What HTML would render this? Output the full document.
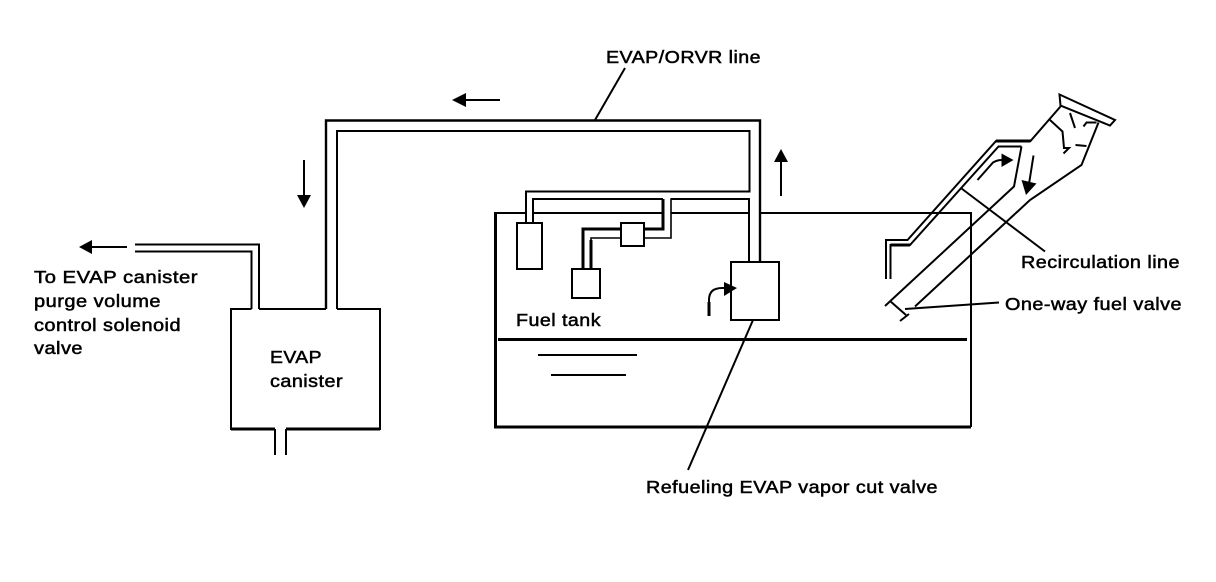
<!DOCTYPE html>
<html><head><meta charset="utf-8"><style>
html,body{margin:0;padding:0;background:#fff;width:1216px;height:582px;overflow:hidden}
svg{display:block}
text{font-family:"Liberation Sans",sans-serif;font-size:17.5px;letter-spacing:.4px;fill:#000;stroke:#000;stroke-width:.5}
</style></head><body>
<svg width="1216" height="582" viewBox="0 0 1216 582" xmlns="http://www.w3.org/2000/svg">
<rect width="1216" height="582" fill="#fff"/>
<g fill="none" stroke="#000" stroke-width="2" stroke-linejoin="miter">
<!-- canister -->
<path d="M251.5 309H231V429H275M286 429H380V309H337M326 309H259"/>
<path d="M231 429H275M286 429H380" stroke-width="3"/>
<path d="M275 429V455M286 429V455"/>
<!-- purge line -->
<path d="M135 244.5H259V309M135 251.5H251.5V309"/>
<!-- EVAP/ORVR line -->
<path d="M326 309V120.5H760V262" stroke-width="2.4"/>
<path d="M337 309V131H749.5V191.5H526V223"/>
<path d="M625 68L595 120"/>
<path d="M533 223V199H663"/>
<path d="M663 199V229H644M621 229H583V269" stroke-width="3"/>
<path d="M621 238H591V269" stroke-width="1.6"/>
<path d="M591 240V269" stroke-width="3"/>
<path d="M644 238H671V199H749V262" stroke-width="1.6"/>
<path d="M671 199H749V262"/>
<!-- tank -->
<path d="M495.5 212V427H971" stroke-width="3"/>
<path d="M495 213H526M533 213H663M671 213H749M760 213H971V427"/>
<path d="M498 339.5H967" stroke-width="3"/>
<path d="M538 355H637M551 375H626"/>
<!-- boxes -->
<rect x="517" y="223" width="25" height="46" fill="#fff"/>
<rect x="621" y="223" width="23" height="23" fill="#fff"/>
<rect x="572" y="269" width="28" height="29" fill="#fff"/>
<rect x="731" y="262" width="48" height="58" fill="#fff"/>
<!-- leaders -->
<path d="M753 320L688 470"/>
<path d="M709 316V300Q709 288 722 288H726"/>
<path d="M709 316V302" stroke-width="3"/>
<!-- filler neck -->
<path d="M1059.5 94.5L1115 120L1110 125.5L1060.5 105.5Z"/>
<path d="M1060.5 106.5L1030.5 141H996L907.5 240H886V279"/>
<path d="M1030.5 141H996" stroke-width="3"/>
<path d="M1021.5 146.5H998.5L910 245H890.5V279"/>
<path d="M910 245H890.5" stroke-width="3"/>
<path d="M1021.5 146.5L1014 186.5L885 306"/>
<path d="M1098.5 122.5L1081.5 165L1030 200L915 306.5"/>
<path d="M890 301L906 315M900 321L909 314"/>
<path d="M905 309L999 302.5"/>
<path d="M961.5 188.5L1045 251.5"/>
<path d="M1050 120L1062.5 131.5L1064 148H1069L1063.5 153.5M1070 113L1075 128M1083.5 126.5L1086.5 122.5H1096.5M1075.5 145L1086.5 146"/>
<path d="M977.5 180L993 162.5Q997 160 1002 160"/>
<path d="M1033.5 155.5L1029 184"/>
<!-- flow arrows -->
<path d="M464 100H500M304 160V197M781 160V196M90 247H127"/>
</g>
<g fill="#000">
<path d="M452 100L466 93V107Z"/>
<path d="M304 208L297 195H311Z"/>
<path d="M781 149L774 162H788Z"/>
<path d="M79 247L92 240V254Z"/>
<path d="M737 288L724 282V296Z"/>
<path d="M1013.5 160L1001.5 153.5V167Z"/>
<path d="M1026 195L1021.5 180L1036.5 183.5Z"/>
</g>
<g lengthAdjust="spacingAndGlyphs">
<text x="606" y="63" textLength="155" lengthAdjust="spacingAndGlyphs">EVAP/ORVR line</text>
<text x="34" y="283" textLength="164" lengthAdjust="spacingAndGlyphs">To EVAP canister</text>
<text x="34" y="307" textLength="127" lengthAdjust="spacingAndGlyphs">purge volume</text>
<text x="34" y="331" textLength="147" lengthAdjust="spacingAndGlyphs">control solenoid</text>
<text x="34" y="354" textLength="49" lengthAdjust="spacingAndGlyphs">valve</text>
<text x="270" y="363" textLength="52" lengthAdjust="spacingAndGlyphs">EVAP</text>
<text x="270" y="387" textLength="73" lengthAdjust="spacingAndGlyphs">canister</text>
<text x="516" y="326" textLength="85" lengthAdjust="spacingAndGlyphs">Fuel tank</text>
<text x="646" y="493" textLength="292" lengthAdjust="spacingAndGlyphs">Refueling EVAP vapor cut valve</text>
<text x="1021" y="268" textLength="159" lengthAdjust="spacingAndGlyphs">Recirculation line</text>
<text x="1005" y="310" textLength="177" lengthAdjust="spacingAndGlyphs">One-way fuel valve</text>
</g>
</svg>
</body></html>
